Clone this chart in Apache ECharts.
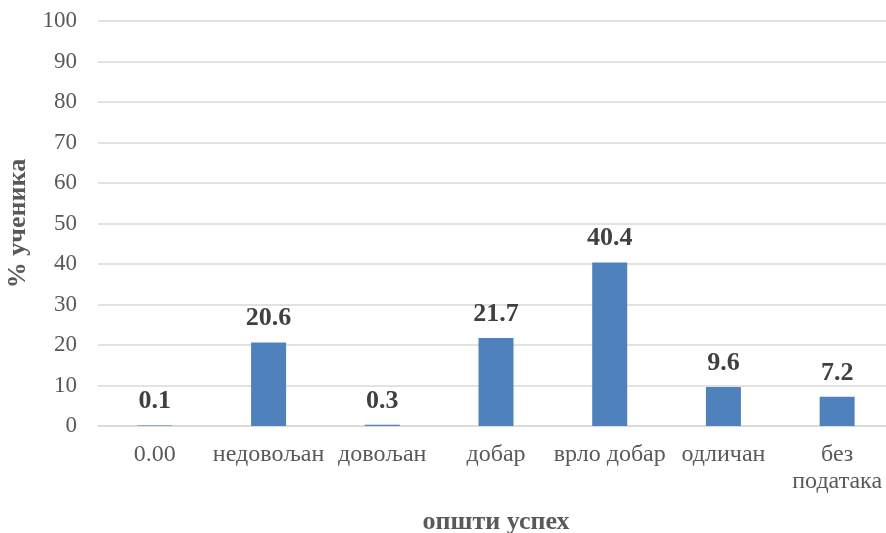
<!DOCTYPE html>
<html><head><meta charset="utf-8">
<script src="https://cdn.jsdelivr.net/npm/echarts@6/dist/echarts.min.js"></script>
<style>html,body{margin:0;padding:0;background:#fff}#c{width:886px;height:533px}</style>
</head><body><div id="c"></div>
<script>
const categories = ['0.00', 'недовољан', 'довољан', 'добар', 'врло добар', 'одличан', 'без\nподатака'];
const values = [0.1, 20.6, 0.3, 21.7, 40.4, 9.6, 7.2];
const yTicks = { min: 0, max: 100, interval: 10 };
const xName = 'општи успех';
const yName = '% ученика';

const font = '"Liberation Serif", "Times New Roman", serif';
const chart = echarts.init(document.getElementById('c'));
chart.setOption({
  animation: false,
  grid: { left: 98, top: 21, width: 796, bottom: 107, containLabel: false, outerBoundsMode: 'none' },
  xAxis: {
    type: 'category', data: categories,
    name: xName, nameLocation: 'middle', nameGap: 83,
    nameTextStyle: { fontFamily: font, fontSize: 26, fontWeight: 'bold', color: '#595959' },
    axisLine: { show: true, lineStyle: { color: '#d9d9d9', width: 1.5 } },
    axisTick: { show: false },
    axisLabel: { interval: 0, fontFamily: font, fontSize: 24, color: '#595959', margin: 15, lineHeight: 27 }
  },
  yAxis: {
    type: 'value', min: yTicks.min, max: yTicks.max, interval: yTicks.interval,
    name: yName, nameLocation: 'middle', nameGap: 64, nameRotate: 90,
    nameTextStyle: { fontFamily: font, fontSize: 26, fontWeight: 'bold', color: '#595959' },
    axisLine: { show: false }, axisTick: { show: false },
    axisLabel: { fontFamily: font, fontSize: 23, color: '#595959', margin: 21 },
    splitLine: { lineStyle: { color: '#d9d9d9', width: 1.5 } }
  },
  series: [{
    type: 'bar', data: values, barWidth: 35,
    itemStyle: { color: '#4f81bd' },
    label: { show: true, position: 'top', distance: 11, fontFamily: font, fontSize: 26, fontWeight: 'bold', color: '#404040', formatter: p => p.value.toFixed(1) }
  }]
});
</script></body></html>
